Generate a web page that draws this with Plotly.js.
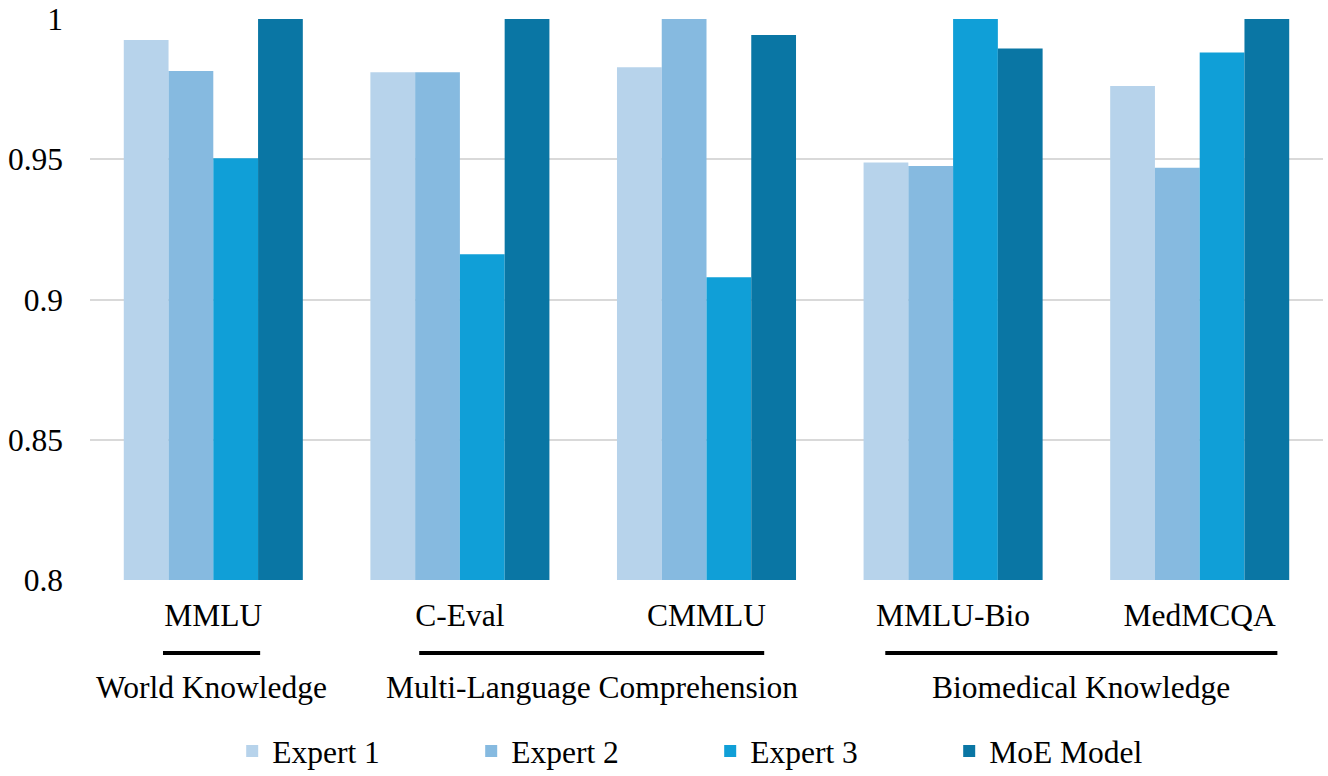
<!DOCTYPE html>
<html>
<head>
<meta charset="utf-8">
<script src="https://cdn.plot.ly/plotly-3.0.1.min.js"></script>
<style>
html, body { margin: 0; padding: 0; background: #ffffff; font-family: 'Liberation Serif', serif; }
#chart { width: 1328px; height: 776px; }
#chart svg text { font-family: 'Liberation Serif', serif !important; }
</style>
</head>
<body>
<div id="chart"></div>
<script>
// ---- data ----
var categories = ["MMLU", "C-Eval", "CMMLU", "MMLU-Bio", "MedMCQA"];
var seriesNames = ["Expert 1", "Expert 2", "Expert 3", "MoE Model"];
var expert1 = [0.9925, 0.981, 0.9828, 0.9488, 0.9761];
var expert2 = [0.9815, 0.981, 1.0, 0.9476, 0.947];
var expert3 = [0.9504, 0.9161, 0.9079, 1.0, 0.9881];
var moeModel = [1.0, 1.0, 0.9943, 0.9895, 1.0];
var groupNames = ["World Knowledge", "Multi-Language Comprehension", "Biomedical Knowledge"];
var groupFirst = [0, 1, 3];
var groupLast = [0, 2, 4];

// ---- styling ----
var colors = ["#b7d3eb", "#86bae0", "#109fd7", "#0a76a4"];
var FONT = "Liberation Serif";
var FS = 31.5;
var padLeft = [0.204, 0.165, 0.275];
var padRight = [0.19, 0.234, 0.315];

var values = [expert1, expert2, expert3, moeModel];
var traces = values.map(function (v, i) {
  return {
    type: "bar",
    name: seriesNames[i],
    x: categories,
    y: v,
    marker: { color: colors[i], line: { width: 0 } }
  };
});

var shapes = [];
var annotations = [];
for (var g = 0; g < groupNames.length; g++) {
  var x0 = groupFirst[g] - padLeft[g];
  var x1 = groupLast[g] + padRight[g];
  shapes.push({
    type: "line", xref: "x", yref: "paper",
    x0: x0, x1: x1, y0: -0.130, y1: -0.130,
    line: { color: "#000000", width: 4 }
  });
  annotations.push({
    xref: "x", yref: "paper",
    x: (x0 + x1) / 2, y: -0.1925,
    xanchor: "center", yanchor: "middle",
    text: groupNames[g], showarrow: false,
    font: { family: FONT, size: FS, color: "#000000" }
  });
}

var layout = {
  width: 1328, height: 776,
  margin: { l: 90, r: 5, t: 19, b: 196, autoexpand: false },
  barmode: "group",
  bargap: 0.274,
  bargroupgap: 0,
  font: { family: FONT, size: FS, color: "#000000" },
  showlegend: true,
  legend: {
    orientation: "h",
    x: 0.503, xanchor: "center",
    y: -0.305, yanchor: "middle",
    font: { family: FONT, size: FS, color: "#000000" },
    entrywidth: 194
  },
  xaxis: {
    type: "category",
    showgrid: false,
    zeroline: false,
    ticks: "",
    ticklabelstandoff: 13,
    tickfont: { family: FONT, size: FS, color: "#000000" }
  },
  yaxis: {
    range: [0.8, 1.0],
    dtick: 0.05,
    tick0: 0.8,
    gridcolor: "#d9d9d9",
    gridwidth: 1.5,
    zeroline: false,
    ticks: "",
    ticklabelstandoff: 26,
    tickfont: { family: FONT, size: FS, color: "#000000" }
  },
  shapes: shapes,
  annotations: annotations
};

Plotly.newPlot("chart", traces, layout, { displayModeBar: false });
</script>
</body>
</html>
